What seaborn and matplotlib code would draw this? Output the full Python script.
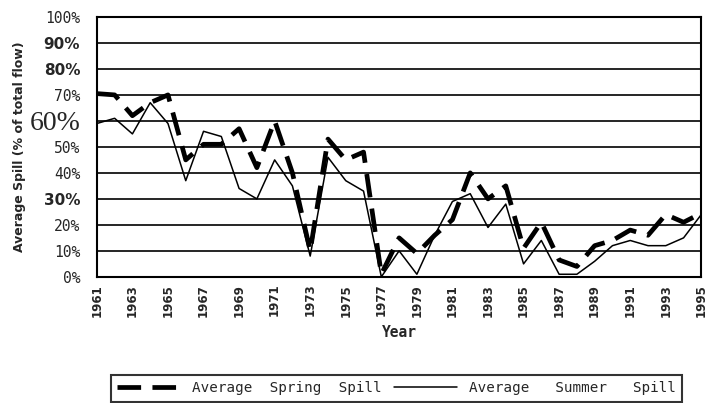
import matplotlib
matplotlib.use("Agg")
import matplotlib.pyplot as plt
import seaborn as sns
import pandas as pd

# values (percent of total flow)
years = list(range(1961, 1996))
spring_spill = [70.5, 70, 62, 67, 70, 45, 51, 51, 57, 42, 60, 40, 10, 53, 45, 48, 1,
                15, 9, 16, 22, 40, 30, 35, 11, 21, 6.5, 4, 12, 14, 18, 16, 24, 21, 24.5]
summer_spill = [59, 61, 55, 67, 59, 37, 56, 54, 34, 30, 45, 35, 8, 46, 37, 33, 0,
                10, 1, 16, 29, 32, 19, 28, 5, 14, 1, 1, 6, 12, 14, 12, 12, 15, 24]
y_ticks = [0, 10, 20, 30, 40, 50, 60, 70, 80, 90, 100]
x_labels = [str(y) if (y - 1961) % 2 == 0 else "" for y in years]

df = pd.DataFrame({"Year": years, "Spring": spring_spill, "Summer": summer_spill})

sns.set_style("white")

fig = plt.figure(figsize=(7.07, 4.03), dpi=100)
ax = fig.add_axes([0.137, 0.313, 0.855, 0.645])

sns.lineplot(data=df, x="Year", y="Spring", ax=ax, color="black", lw=3.4,
             ls=(0, (5, 2.4)), label="Average  Spring  Spill", legend=False)
sns.lineplot(data=df, x="Year", y="Summer", ax=ax, color="black", lw=1.1,
             label="Average   Summer   Spill", legend=False)

ax.set_xlim(1961, 1995)
ax.set_ylim(0, 100)
ax.set_yticks(y_ticks)
ax.yaxis.grid(True, color="black", lw=1.2)
ax.set_axisbelow(True)
for s in ax.spines.values():
    s.set_color("black")
    s.set_linewidth(1.5)

# y tick labels come in three different typefaces in the original
ax.set_yticklabels([f"{v}%" for v in y_ticks])
for t in ax.get_yticklabels():
    txt = t.get_text()
    if txt in ("90%", "80%", "30%"):
        t.set_fontfamily("DejaVu Sans")
        t.set_fontweight("bold")
        t.set_fontsize(11)
    elif txt == "60%":
        t.set_fontfamily("Liberation Serif")
        t.set_fontsize(20)
    else:
        t.set_fontfamily("DejaVu Sans Mono")
        t.set_fontsize(10.5)
ax.tick_params(axis="y", direction="out", length=4, width=1.2, color="black", pad=8)

ax.set_xticks(years)
ax.set_xticklabels(x_labels, rotation=90, fontweight="bold", fontsize=8.5)
ax.tick_params(axis="x", direction="inout", length=6, width=1, color="black", pad=2)

ax.set_xlabel("Year", fontsize=10.5, fontweight="bold", family="DejaVu Sans Mono", labelpad=6)
ax.set_ylabel("Average Spill (% of total flow)", fontsize=9, fontweight="bold")
ax.yaxis.set_label_coords(-0.118, 0.5)

leg = fig.legend(loc="upper left", bbox_to_anchor=(0.157, 0.0695), ncol=2,
                 frameon=True, fancybox=False, handlelength=4.4, handletextpad=0.8,
                 columnspacing=0.9, borderaxespad=0, borderpad=0.45,
                 prop={"family": "DejaVu Sans Mono", "size": 10.3})
leg.get_frame().set_edgecolor("black")
leg.get_frame().set_linewidth(1.5)

fig.savefig("out.png", dpi=100)
